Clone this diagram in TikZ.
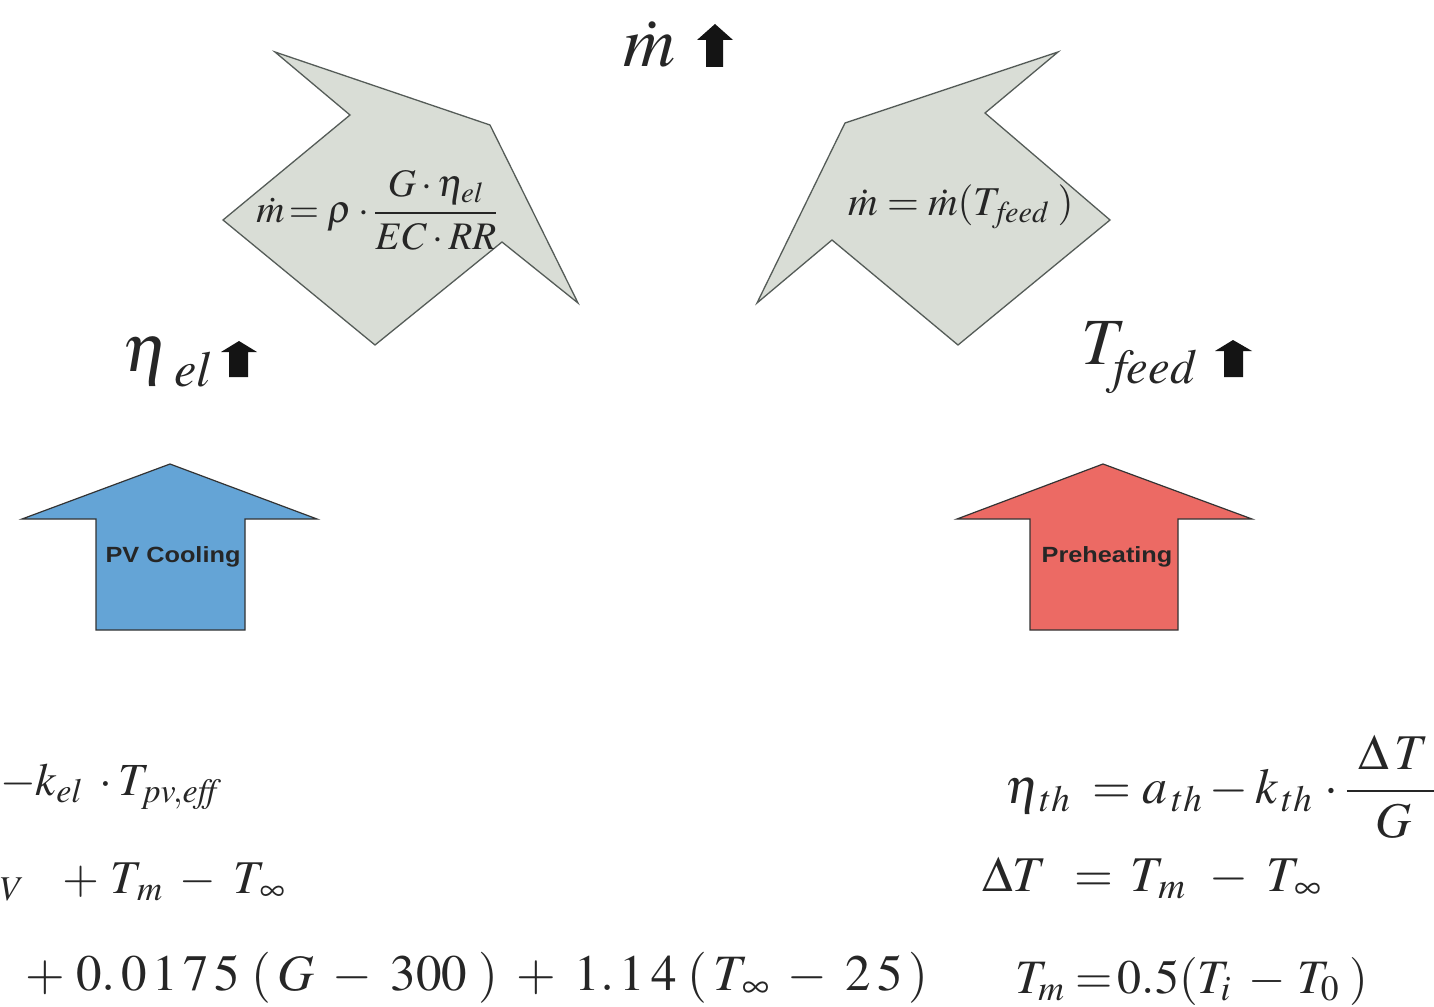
\documentclass[tikz,border=0pt]{standalone}
\usepackage{mathptmx}
\usepackage{amsmath}
\usepackage{graphicx}
\usepackage{fontspec}
\setmainfont{Liberation Serif}
\newfontfamily\labelfont{Liberation Sans}
\definecolor{shapegray}{RGB}{217,221,214}
\definecolor{shapeedge}{RGB}{85,92,88}
\definecolor{coolblue}{RGB}{100,164,214}
\definecolor{heatred}{RGB}{236,106,100}
\definecolor{inkblack}{RGB}{20,20,20}
\begin{document}
\begin{tikzpicture}[x=1pt,y=-1pt,
  bubble/.style={fill=shapegray,draw=shapeedge,line width=1.3pt,line join=miter},
  bigarrow/.style={draw=black!80,line width=1.2pt},
  smallup/.style={fill=inkblack,draw=none},
  lbl/.style={inner sep=0pt,font=\labelfont\bfseries\fontsize{22}{26}\selectfont,text=black!85},
  eq/.style={inner sep=0pt,text=black!85},
]
\useasboundingbox[fill=white] (0,0) rectangle (1434,1006);
% grey bubbles
\draw[bubble] (275,52) -- (490,125) -- (578,303) -- (502,242) -- (375,345) -- (223,220) -- (350,115) -- cycle;
\draw[bubble] (1058,52) -- (845,123) -- (757,303) -- (832,240) -- (958,345) -- (1110,220) -- (985,113) -- cycle;
% formulas inside bubbles
\node[eq,font=\fontsize{39}{44}\selectfont] (fl) at (377,210) {$\dot m\!=\rho\cdot\dfrac{G\cdot\eta_{el}}{EC\cdot RR}$};
\node[eq,font=\fontsize{41}{46}\selectfont] (fr) at (961,207) {$\dot m = \dot m(T_{\,\mathit{feed}}\;)$};
% top label
\node[eq,font=\fontsize{72}{78}\selectfont] (mdot) at (649,44) {$\dot m$};
\fill[smallup] (715,24) -- (733,40) -- (723,40) -- (723,67) -- (706,67) -- (706,40) -- (697,40) -- cycle;
% eta_el
\node[eq,font=\fontsize{68}{74}\selectfont] (etael) at (168,362) {$\eta_{\;\raisebox{-4pt}{$\scriptstyle el$}}$};
\fill[smallup] (239,341) -- (257,352) -- (248,352) -- (248,377) -- (229,377) -- (229,352) -- (221,352) -- cycle;
% T_feed
\node[eq,font=\fontsize{66}{74}\selectfont] (tfeed) at (1139,358) {$T_{\raisebox{-9pt}{$\scriptstyle\mathit{feed}$}}$};
\fill[smallup] (1233,340) -- (1252,351) -- (1243,351) -- (1243,377) -- (1224,377) -- (1224,351) -- (1215,351) -- cycle;
% big arrows
\draw[bigarrow,fill=coolblue] (22,519) -- (170,464) -- (317,519) -- (245,519) -- (245,630) -- (96,630) -- (96,519) -- cycle;
\node[lbl] (pv) at (173,557) {\scalebox{1.15}[1]{PV Cooling}};
\draw[bigarrow,fill=heatred] (957,519) -- (1103,464) -- (1252,519) -- (1178,519) -- (1178,630) -- (1030,630) -- (1030,519) -- cycle;
\node[lbl] (pre) at (1107,557) {\scalebox{1.15}[1]{Preheating}};
% left equations
\node[eq,anchor=base west,font=\fontsize{46}{50}\selectfont] (l1) at (0,795) {$-k_{el}\;\cdot T_{pv,\mathit{eff}}$};
\node[eq,anchor=base west,font=\fontsize{47}{52}\selectfont] (l2) at (0,893) {${}_{V}\;\;\;+\,T_{\,m}\;-\;T_{\,\infty}$};
\node[eq,anchor=base west,font=\fontsize{51}{56}\selectfont] (l3) at (25,990) {$+\;0.\,0\,1\,7\,5\;(\,G\;-\;300\;)\;+\;1.\,1\,4\;(\,T_{\,\infty}\;-\;2\,5\,)$};
% right equations
\node[eq,anchor=base west,font=\fontsize{50}{56}\selectfont] (r1) at (1005,803) {$\eta_{\,th}\;=a_{\,th}-k_{\,th}\,\cdot\dfrac{\;\Delta\,T\;}{G}$};
\node[eq,anchor=base west,font=\fontsize{50}{56}\selectfont] (r2) at (982,891) {$\Delta T\;\,=\,T_{\,m}\;\,-\;T_{\,\infty}$};
\node[eq,anchor=base west,font=\fontsize{48}{54}\selectfont] (r3) at (1015,993) {$T_{m}\;{=}\,0.5(T_{i}\;-\,T_{0}\;)$};
\end{tikzpicture}
\end{document}
